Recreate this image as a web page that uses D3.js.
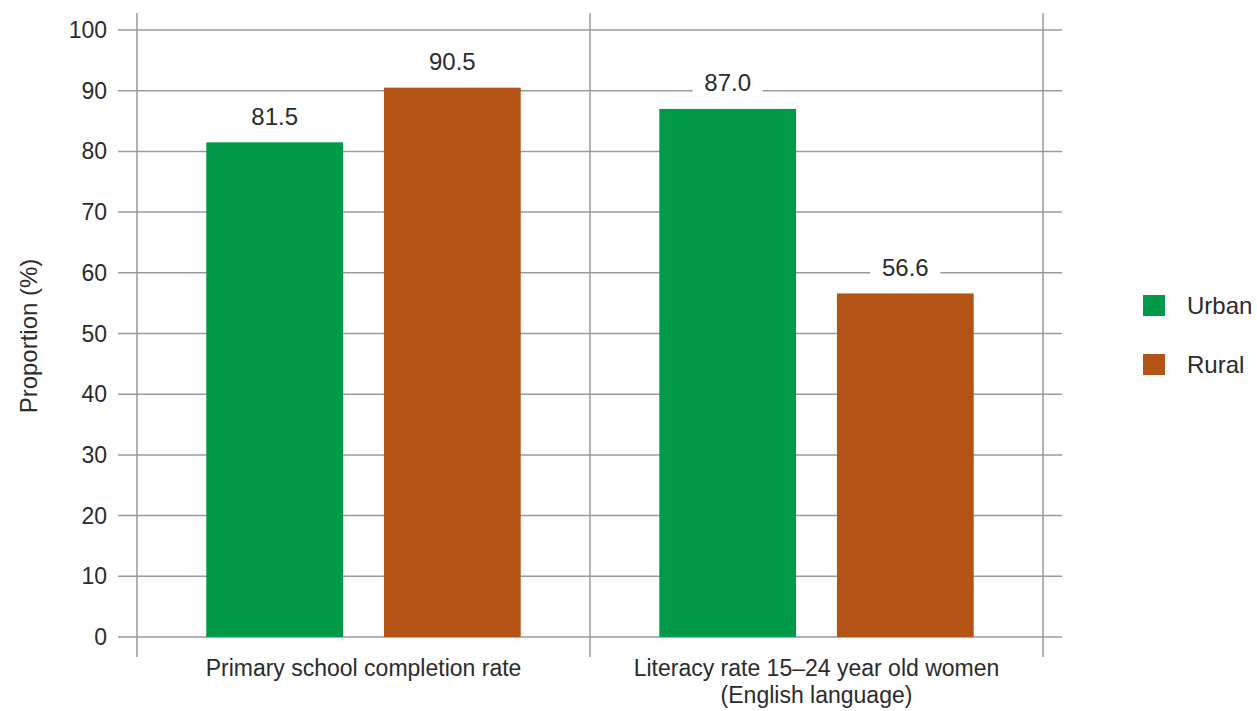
<!DOCTYPE html>
<html><head><meta charset="utf-8">
<script src="https://cdn.jsdelivr.net/npm/d3@7"></script>
<style>body{margin:0;background:#fff}svg{display:block}text{font-family:"Liberation Sans",Arial,sans-serif;fill:#2b2b2b}</style>
</head><body><svg id="c" width="1257" height="711"></svg>
<script>
const categories = ["Primary school completion rate", "Literacy rate 15\u201324 year old women|(English language)"];
const seriesNames = ["Urban", "Rural"];
const urbanValues = [81.5, 87.0];
const ruralValues = [90.5, 56.6];
const yTicks = [0,10,20,30,40,50,60,70,80,90,100];
const colors = ["#009a49", "#b35416"];

const svg = d3.select("#c");
const x0 = d3.scaleBand().domain(categories).range([137, 1043]).padding(0);
const x1 = d3.scaleBand().domain(seriesNames).range([0, x0.bandwidth()]).paddingInner(0.23).paddingOuter(0.39);
const y = d3.scaleLinear().domain([0, 100]).range([637, 30]);

// horizontal gridlines
svg.append("g").selectAll("line").data(yTicks).join("line")
  .attr("x1", 118).attr("x2", 1062)
  .attr("y1", d => y(d)).attr("y2", d => y(d))
  .attr("stroke", "#9a9a9a").attr("stroke-width", 1.5);
// vertical lines
const vx = [x0.range()[0], ...categories.slice(1).map(c => x0(c)), x0.range()[1]];
svg.append("g").selectAll("line").data(vx).join("line")
  .attr("x1", d => d).attr("x2", d => d).attr("y1", 13).attr("y2", 657)
  .attr("stroke", "#9a9a9a").attr("stroke-width", 1.5);
// y tick labels
svg.append("g").selectAll("text").data(yTicks).join("text")
  .attr("x", 107).attr("y", d => y(d)).attr("dy", "0.35em")
  .attr("text-anchor", "end").attr("font-size", 23).text(d => d);

const rows = categories.map((c, i) => [
  {cat: c, s: "Urban", v: urbanValues[i], col: colors[0]},
  {cat: c, s: "Rural", v: ruralValues[i], col: colors[1]}
]).flat();

svg.append("g").selectAll("rect").data(rows).join("rect")
  .attr("x", d => x0(d.cat) + x1(d.s)).attr("width", x1.bandwidth())
  .attr("y", d => y(d.v)).attr("height", d => y(0) - y(d.v))
  .attr("fill", d => d.col);

// value labels with white backgrounds
const lg = svg.append("g").selectAll("g").data(rows).join("g")
  .attr("transform", d => `translate(${x0(d.cat) + x1(d.s) + x1.bandwidth()/2},${y(d.v) - 26})`);
lg.append("rect").attr("x", -35).attr("y", -14).attr("width", 70).attr("height", 28).attr("fill", "#fff");
lg.append("text").attr("text-anchor", "middle").attr("dy", "0.35em").attr("font-size", 24)
  .text(d => d.v.toFixed(1));

// category labels
const catG = svg.append("g");
categories.forEach(d => {
  d.split("|").forEach((p, i) => {
    catG.append("text")
      .attr("x", x0(d) + x0.bandwidth()/2).attr("y", 676 + i*27)
      .attr("text-anchor", "middle").attr("font-size", 23).text(p);
  });
});

// y axis title
svg.append("text").attr("transform", "translate(37,336) rotate(-90)")
  .attr("text-anchor", "middle").attr("font-size", 24).text("Proportion (%)");

// legend
const leg = svg.append("g").selectAll("g").data(seriesNames).join("g")
  .attr("transform", (d, i) => `translate(1143,${295 + i*59})`);
leg.append("rect").attr("width", 22).attr("height", 21).attr("fill", (d, i) => colors[i]);
leg.append("text").attr("x", 44).attr("y", 11).attr("dy", "0.35em").attr("font-size", 24).text(d => d);
</script></body></html>
